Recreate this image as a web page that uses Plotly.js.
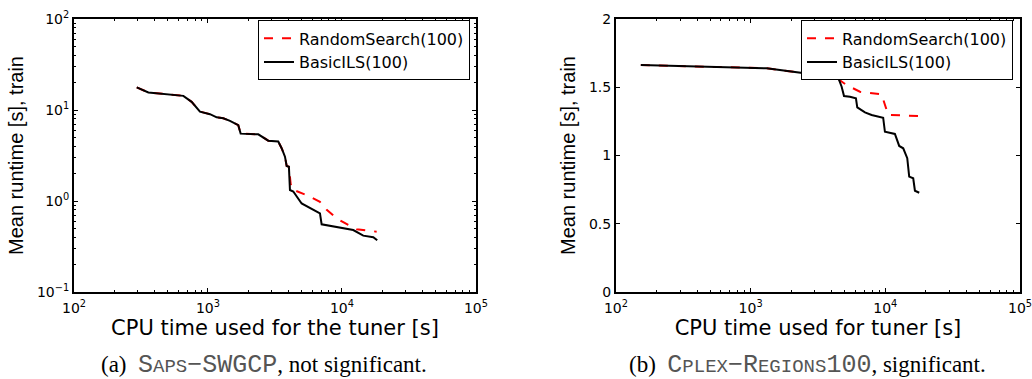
<!DOCTYPE html>
<html>
<head>
<meta charset="utf-8">
<script src="https://cdn.plot.ly/plotly-3.0.1.min.js"></script>
<style>
html,body{margin:0;padding:0;background:#fff;}
#chart{width:1032px;height:379px;}
</style>
</head>
<body>
<div id="chart"></div>
<script>
// Series names
const seriesNames = ["RandomSearch(100)", "BasicILS(100)"];

// (a) SAPS-SWGCP
const sapsRandomX = [294,339,359,655,755,871,1035,1161,1301,1459,1683,1753,2373,2818,3346,3545,3755,3866,4018,4150,4210,5440,6850,7690,9130,11140,12870,18150];
const sapsRandomY = [17.7,16.3,15.6,14.3,12.3,9.6,9.0,8.3,8.1,7.6,6.8,5.5,5.4,4.6,4.5,3.8,3.07,2.43,2.38,1.5,1.35,1.16,0.98,0.80,0.645,0.545,0.49,0.46];
const sapsIlsX = [294,339,359,655,755,871,1035,1161,1301,1459,1683,1753,2373,2818,3346,3545,3755,3866,4018,4090,4331,5000,6850,7050,9660,12140,14420,17130,18330];
const sapsIlsY = [17.7,16.3,15.6,14.3,12.3,9.6,9.0,8.3,8.1,7.6,6.8,5.5,5.4,4.6,4.5,3.8,3.07,2.43,2.38,1.32,1.27,0.94,0.73,0.555,0.51,0.48,0.416,0.40,0.37];

// (b) CPLEX-REGIONS100
const cplexRandomX = [153,1315,4300,5160,6480,9380,10510,18070];
const cplexRandomY = [1.663,1.639,1.572,1.516,1.467,1.448,1.297,1.289];
const cplexIlsX = [153,1315,4467,4740,4935,5460,6050,6190,7060,7910,9640,9930,11780,12680,13580,14550,15040,16110,16590,17860];
const cplexIlsY = [1.663,1.639,1.570,1.504,1.436,1.431,1.419,1.353,1.316,1.297,1.277,1.174,1.158,1.070,1.053,0.980,0.845,0.833,0.742,0.727];

// Tick labels
const xTickVals = [100, 1000, 10000, 100000];
const xTickText = ["10<sup>2</sup>", "10<sup>3</sup>", "10<sup>4</sup>", "10<sup>5</sup>"];
const yLogTickVals = [0.1, 1, 10, 100];
const yLogTickText = ["10<sup>−1</sup>", "10<sup>0</sup>", "10<sup>1</sup>", "10<sup>2</sup>"];
const yLinTickVals = [0, 0.5, 1, 1.5, 2];
const yLinTickText = ["0", "0.5", "1", "1.5", "2"];

// Titles and captions
const xTitleA = "CPU time used for the tuner [s]";
const xTitleB = "CPU time used for tuner [s]";
const yTitle = "Mean runtime [s], train";
const monoBig = 'font-family:Liberation Mono;font-size:25px;fill:#555';
const monoSmall = 'font-size:19px';
const captionA = '(a)  <span style="' + monoBig + '">S<span style="' + monoSmall + '">APS</span>−SWGCP</span>, not significant.';
const captionB = '(b)  <span style="' + monoBig + '">C<span style="' + monoSmall + '">PLEX</span>−R<span style="' + monoSmall + '">EGIONS</span>100</span>, significant.';

function minorVals(lo, hi) {
  const v = [];
  for (let d = lo; d < hi; d *= 10) for (let k = 2; k <= 9; k++) v.push(d * k);
  return v;
}

const wide = "DejaVu Sans, Verdana, sans-serif";
const narrow = "Liberation Sans, Arial, sans-serif";
const red = "#ff0000";

const traces = [
  {x: sapsRandomX, y: sapsRandomY, name: seriesNames[0], mode: "lines", line: {color: red, width: 2, dash: "dash"}, xaxis: "x", yaxis: "y", legend: "legend"},
  {x: sapsIlsX, y: sapsIlsY, name: seriesNames[1], mode: "lines", line: {color: "#000", width: 2}, xaxis: "x", yaxis: "y", legend: "legend"},
  {x: cplexRandomX, y: cplexRandomY, name: seriesNames[0], mode: "lines", line: {color: red, width: 2, dash: "dash"}, xaxis: "x2", yaxis: "y2", legend: "legend2"},
  {x: cplexIlsX, y: cplexIlsY, name: seriesNames[1], mode: "lines", line: {color: "#000", width: 2}, xaxis: "x2", yaxis: "y2", legend: "legend2"}
];

function xAxis(domain, title, anchor) {
  return {
    domain: domain, anchor: anchor, type: "log", range: [2, 5],
    tickmode: "array", tickvals: xTickVals, ticktext: xTickText,
    ticks: "inside", ticklen: 4, tickwidth: 1, tickcolor: "#000",
    minor: {tickmode: "array", tickvals: minorVals(100, 100000), ticks: "inside", ticklen: 2, tickcolor: "#000"},
    showline: true, linecolor: "#000", linewidth: 2, mirror: "ticks",
    showgrid: false, zeroline: false, ticklabeloverflow: "allow",
    tickfont: {family: wide, size: 14}, ticklabelstandoff: 2,
    title: {text: title, font: {family: wide, size: 21}, standoff: 4}
  };
}

function yTitleObj() {
  return {text: yTitle, font: {family: narrow, size: 20}, standoff: 8};
}

const layout = {
  width: 1032, height: 379,
  margin: {l: 74, r: 12, t: 19, b: 87},
  paper_bgcolor: "#fff", plot_bgcolor: "#fff",
  font: {family: wide, color: "#000"},
  showlegend: true,
  xaxis: xAxis([0, 0.4249], xTitleA, "y"),
  xaxis2: xAxis([0.5729, 1], xTitleB, "y2"),
  yaxis: {
    domain: [0, 1], anchor: "x", type: "log", range: [-1, 2],
    tickmode: "array", tickvals: yLogTickVals, ticktext: yLogTickText,
    ticks: "inside", ticklen: 4, tickcolor: "#000",
    minor: {tickmode: "array", tickvals: minorVals(0.1, 100), ticks: "inside", ticklen: 2, tickcolor: "#000"},
    showline: true, linecolor: "#000", linewidth: 2, mirror: "ticks",
    showgrid: false, zeroline: false, tickfont: {family: wide, size: 14},
    title: yTitleObj()
  },
  yaxis2: {
    domain: [0, 1], anchor: "x2", type: "linear", range: [0, 2],
    tickmode: "array", tickvals: yLinTickVals, ticktext: yLinTickText,
    ticks: "inside", ticklen: 4, tickcolor: "#000",
    showline: true, linecolor: "#000", linewidth: 2, mirror: "ticks",
    showgrid: false, zeroline: false, tickfont: {family: wide, size: 14},
    title: yTitleObj()
  },
  legend: {
    x: 0.4186, y: 0.995, xanchor: "right", yanchor: "top",
    bordercolor: "#000", borderwidth: 1, bgcolor: "#fff",
    font: {family: wide, size: 16}, tracegroupgap: 0, itemwidth: 30
  },
  legend2: {
    x: 0.9926, y: 0.995, xanchor: "right", yanchor: "top",
    bordercolor: "#000", borderwidth: 1, bgcolor: "#fff",
    font: {family: wide, size: 16}, tracegroupgap: 0, itemwidth: 30
  },
  annotations: [
    {text: captionA, xref: "paper", yref: "paper", x: 0.2008, y: -0.27, xanchor: "center", yanchor: "middle", showarrow: false, font: {family: "Liberation Serif, Times New Roman, serif", size: 23, color: "#000"}},
    {text: captionB, xref: "paper", yref: "paper", x: 0.7754, y: -0.27, xanchor: "center", yanchor: "middle", showarrow: false, font: {family: "Liberation Serif, Times New Roman, serif", size: 23, color: "#000"}}
  ]
};

Plotly.newPlot("chart", traces, layout, {displayModeBar: false, staticPlot: true});
</script>
</body>
</html>
